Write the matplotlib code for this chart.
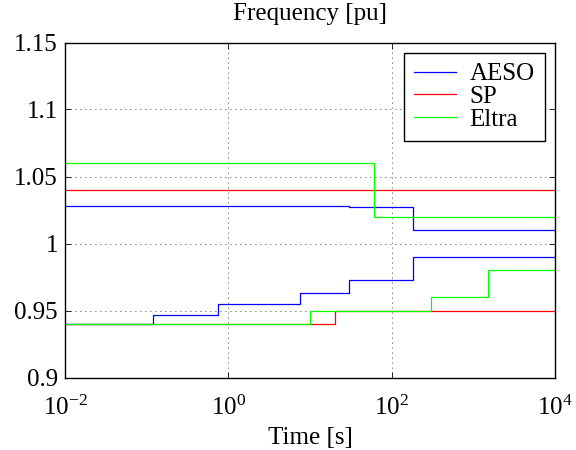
import matplotlib
matplotlib.use("Agg")
import matplotlib.pyplot as plt
import numpy as np

plt.rcParams['font.family'] = ['Liberation Serif', 'DejaVu Serif']
plt.rcParams['mathtext.fontset'] = 'custom'
plt.rcParams['mathtext.rm'] = 'Liberation Serif'
plt.rcParams['mathtext.it'] = 'Liberation Serif:italic'

# Step-curve data (time [s], frequency [pu])
aeso_hi_t = [0.01, 30, 180, 10000]
aeso_hi_f = [1.028, 1.027, 1.010, 1.010]
aeso_lo_t = [0.01, 0.12, 0.75, 7.5, 30, 180, 10000]
aeso_lo_f = [0.940, 0.947, 0.955, 0.963, 0.973, 0.990, 0.990]

sp_hi_t = [0.01, 10000]
sp_hi_f = [1.04, 1.04]
sp_lo_t = [0.01, 20, 10000]
sp_lo_f = [0.94, 0.95, 0.95]

eltra_hi_t = [0.01, 60, 10000]
eltra_hi_f = [1.06, 1.02, 1.02]
eltra_lo_t = [0.01, 10, 300, 1500, 10000]
eltra_lo_f = [0.94, 0.95, 0.96, 0.98, 0.98]

fig = plt.figure(figsize=(5.76, 4.5), dpi=100)
ax = fig.add_axes([65/576, 1-377.5/450, (555-65)/576, (377.5-42.5)/450])

lw = 0.9
blue = (0, 0, 1)
red = (1, 0, 0)
green = (0, 1, 0)

ax.step(aeso_hi_t, aeso_hi_f, where='post', color=blue, lw=lw, label='AESO')
ax.step(sp_hi_t, sp_hi_f, where='post', color=red, lw=lw, label='SP')
ax.step(eltra_hi_t, eltra_hi_f, where='post', color=green, lw=lw, label='Eltra')
ax.step(aeso_lo_t, aeso_lo_f, where='post', color=blue, lw=lw)
ax.step(sp_lo_t, sp_lo_f, where='post', color=red, lw=lw)
ax.step(eltra_lo_t, eltra_lo_f, where='post', color=green, lw=lw)

ax.set_xscale('log')
ax.set_xlim(1e-2, 1e4)
ax.set_ylim(0.9, 1.15)
ax.set_xticks([1e-2, 1e0, 1e2, 1e4])
ax.set_xticklabels([r'$10^{-2}$', r'$10^{0}$', r'$10^{2}$', r'$10^{4}$'])
ax.xaxis.set_minor_locator(matplotlib.ticker.NullLocator())
ax.set_yticks([0.9, 0.95, 1.0, 1.05, 1.1, 1.15])
ax.set_yticklabels(['0.9', '0.95', '1', '1.05', '1.1', '1.15'])
ax.tick_params(direction='in', top=True, right=True, labelsize=18, length=4, width=0.6)
ax.tick_params(axis='y', pad=5)
ax.tick_params(axis='x', pad=13)
ax.grid(True, which='major', color='black', linestyle=(0, (1, 5)), linewidth=0.6)
for s in ax.spines.values():
    s.set_linewidth(1.0)

ax.set_xlabel('Time [s]', fontsize=18, labelpad=5)
ax.set_title('Frequency [pu]', fontsize=18, pad=16)

leg = ax.legend(loc='upper right', fontsize=18, fancybox=False, framealpha=1,
                edgecolor='black', borderaxespad=0.4, handlelength=1.65,
                handletextpad=0.55, labelspacing=0.0, borderpad=0.42)
leg.get_frame().set_linewidth(1.0)

fig.savefig('out.png', dpi=100)
